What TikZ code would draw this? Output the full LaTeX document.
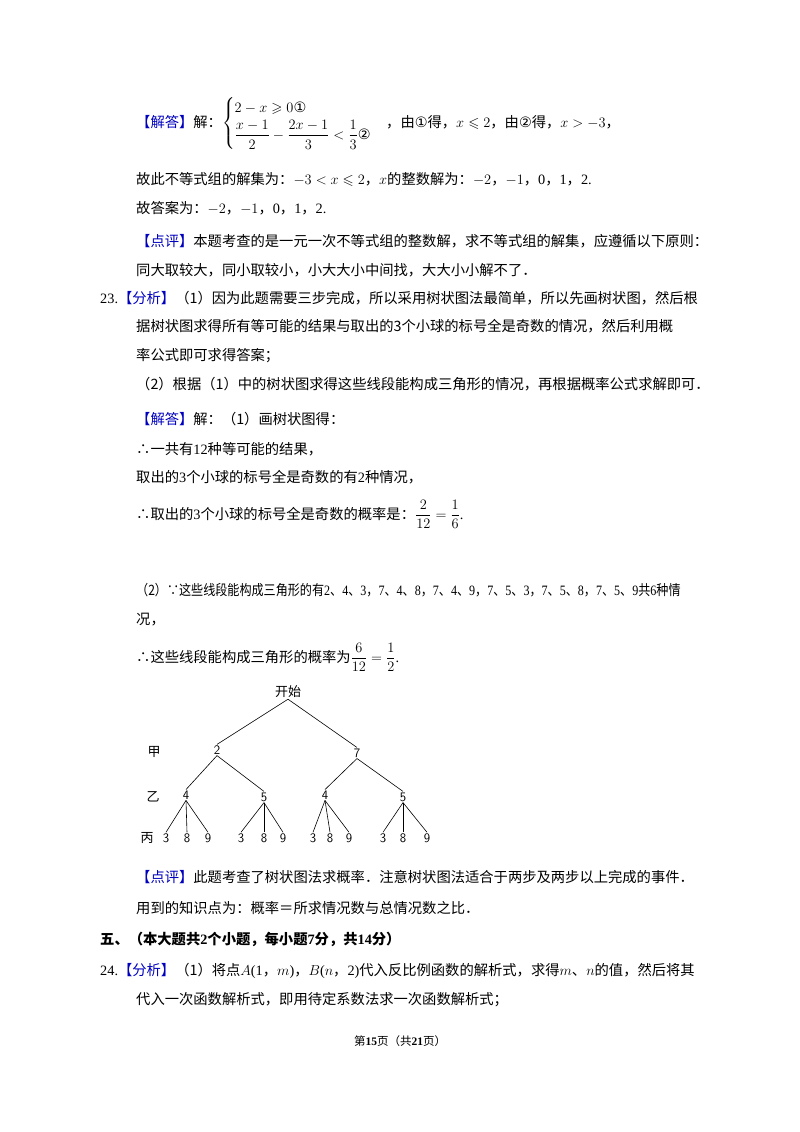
\documentclass[tikz,border=0pt]{standalone}
\usepackage{fontspec}
\usepackage{amsmath,amssymb,graphicx}
\setmainfont{Liberation Serif}
\newfontfamily\cjk{Noto Sans CJK SC}
\newfontfamily\djvfont{DejaVu Sans}
\newcommand{\zh}[1]{{\cjk #1}}
\newcommand{\ci}[1]{{\djvfont #1}}
\begin{document}
\begin{tikzpicture}[x=1pt,y=-1pt,
  ln/.style={anchor=base west,inner sep=0,font=\fontsize{14.3}{17}\selectfont},
  tn/.style={inner sep=1pt,font=\sffamily\fontsize{13}{15}\selectfont},
  br/.style={line width=0.6pt}]
\useasboundingbox[fill=white] (0,0) rectangle (800,1132);
\node[ln] (l1) at (136,127) {\zh{\textcolor{blue!75!black}{【解答】}解：}$\begin{cases}2-x\geqslant0\text{\ci{①}}\\[2pt] \dfrac{x-1}{2}-\dfrac{2x-1}{3}<\dfrac{1}{3}\text{\ci{②}}\end{cases}$\zh{，由}\ci{①}\zh{得，}$x\leqslant2$\zh{，由}\ci{②}\zh{得，}$x>-3$\zh{，}};
\node[ln] (l2) at (136,184) {\zh{故此不等式组的解集为：}$-3<x\leqslant2$\zh{，}$x$\zh{的整数解为：}$-2$\zh{，}$-1$\zh{，}0\zh{，}1\zh{，}2.};
\node[ln] (l3) at (136,213) {\zh{故答案为：}$-2$\zh{，}$-1$\zh{，}0\zh{，}1\zh{，}2.};
\node[ln] (l4) at (136,246) {\zh{\textcolor{blue!75!black}{【点评】}本题考查的是一元一次不等式组的整数解，求不等式组的解集，应遵循以下原则：}};
\node[ln] (l5) at (136,275) {\zh{同大取较大，同小取较小，小大大小中间找，大大小小解不了．}};
\node[ln] (l6) at (100,303) {23.\zh{\textcolor{blue!75!black}{【分析】}（1）因为此题需要三步完成，所以采用树状图法最简单，所以先画树状图，然后根}};
\node[ln] (l7) at (136,331) {\zh{据树状图求得所有等可能的结果与取出的3个小球的标号全是奇数的情况，然后利用概}};
\node[ln] (l8) at (136,360) {\zh{率公式即可求得答案；}};
\node[ln] (l9) at (136,389) {\zh{（2）根据（1）中的树状图求得这些线段能构成三角形的情况，再根据概率公式求解即可．}};
\node[ln] (l10) at (136,424) {\zh{\textcolor{blue!75!black}{【解答】}解：（1）画树状图得：}};
\node[ln] (l11) at (136,454) {\zh{∴一共有}12\zh{种等可能的结果，}};
\node[ln] (l12) at (136,482) {\zh{取出的}3\zh{个小球的标号全是奇数的有}2\zh{种情况，}};
\node[ln] (l13) at (136,519) {\zh{∴取出的}3\zh{个小球的标号全是奇数的概率是：}$\dfrac{2}{12}=\dfrac{1}{6}$.};
\node[ln] (l14) at (136,595) {\scalebox{0.845}[1]{\zh{（2）∵这些线段能构成三角形的有}2\zh{、}4\zh{、}3\zh{，}7\zh{、}4\zh{、}8\zh{，}7\zh{、}4\zh{、}9\zh{，}7\zh{、}5\zh{、}3\zh{，}7\zh{、}5\zh{、}8\zh{，}7\zh{、}5\zh{、}9\zh{共}6\zh{种情}}};
\node[ln] (l15) at (136,624) {\zh{况，}};
\node[ln] (l16) at (136,662) {\zh{∴这些线段能构成三角形的概率为}$\dfrac{6}{12}=\dfrac{1}{2}$.};
% tree
\node[tn] (s) at (288,692) {\zh{开始}};
\node[tn] (a) at (217,750) {2};
\node[tn] (b) at (357,753) {7};
\node[tn] (a4) at (186,795) {4};
\node[tn] (a5) at (264,797) {5};
\node[tn] (b4) at (325,795) {4};
\node[tn] (b5) at (403,797) {5};
\foreach \n/\x/\p/\v in {a43/166/a4/3,a48/187/a4/8,a49/208/a4/9,a53/241/a5/3,a58/264/a5/8,a59/283/a5/9,b43/313/b4/3,b48/330/b4/8,b49/349/b4/9,b53/383/b5/3,b58/403/b5/8,b59/427/b5/9}{
  \node[tn] (\n) at (\x,838) {\v};
  \draw[br] (\p.south) -- (\n.north);}
\node[tn] (jia) at (154,752) {\zh{甲}};
\node[tn] (yi) at (153,797) {\zh{乙}};
\node[tn] (bing) at (147,838) {\zh{丙}};
\draw[br] (s.south) -- (a.north);
\draw[br] (s.south) -- (b.north);
\draw[br] (a.south) -- (a4.north);
\draw[br] (a.south) -- (a5.north);
\draw[br] (b.south) -- (b4.north);
\draw[br] (b.south) -- (b5.north);
\node[ln] (l17) at (136,882) {\zh{\textcolor{blue!75!black}{【点评】}此题考查了树状图法求概率．注意树状图法适合于两步及两步以上完成的事件．}};
\node[ln] (l18) at (136,913) {\zh{用到的知识点为：概率＝所求情况数与总情况数之比．}};
\node[ln] (l19) at (100,944) {\zh{\bfseries 五、（本大题共}\textbf{2}\zh{\bfseries 个小题，每小题}\textbf{7}\zh{\bfseries 分，共}\textbf{14}\zh{\bfseries 分）}};
\node[ln] (l20) at (100,975) {24.\zh{\textcolor{blue!75!black}{【分析】}（1）将点}$A$(1\zh{，}$m$)\zh{，}$B$($n$\zh{，}2)\zh{代入反比例函数的解析式，求得}$m$\zh{、}$n$\zh{的值，然后将其}};
\node[ln] (l21) at (136,1004) {\zh{代入一次函数解析式，即用待定系数法求一次函数解析式；}};
\node[anchor=base,inner sep=0,font=\fontsize{11.5}{13}\selectfont] (ft) at (400,1045) {\zh{第}\textbf{15}\zh{页（共}\textbf{21}\zh{页）}};
\end{tikzpicture}
\end{document}
